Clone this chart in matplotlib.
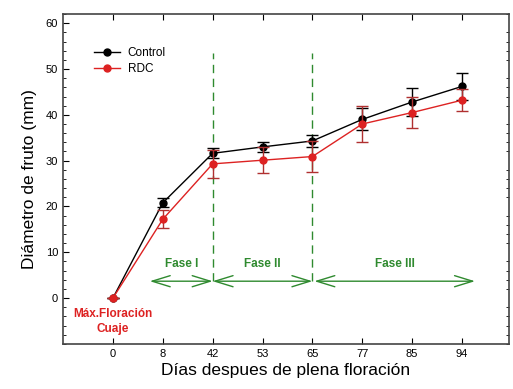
import matplotlib
matplotlib.use("Agg")
import matplotlib.pyplot as plt
from matplotlib.ticker import MultipleLocator
from matplotlib.lines import Line2D

plt.rcParams['font.family'] = ['Liberation Sans', 'DejaVu Sans']

##### Data
dias = ['0', '8', '42', '53', '65', '77', '85', '94']
control = [0.0, 20.8, 31.6, 33.0, 34.3, 39.0, 42.8, 46.2]
control_err = [0.0, 1.0, 1.1, 1.1, 1.3, 2.4, 3.0, 2.9]
rdc = [0.0, 17.2, 29.3, 30.1, 30.9, 38.0, 40.5, 43.2]
rdc_err = [0.0, 2.0, 3.0, 2.9, 3.3, 4.0, 3.3, 2.4]

fases = ['Fase I', 'Fase II', 'Fase III']
fase_inicio = [0.74, 2.0, 4.04]
fase_fin = [2.0, 4.0, 7.26]
limites = [2, 4]

verde = '#2f8a2f'
rojo = '#dd2222'

x = list(range(len(dias)))

fig = plt.figure(figsize=(5.13, 3.89), dpi=100)
ax = fig.add_axes([0.1228, 0.1157, 0.8692, 0.8483])

ax.errorbar(x, control, yerr=control_err, color='black', marker='o', markersize=5,
            linewidth=1, capsize=4, elinewidth=1, zorder=3)
ax.errorbar(x, rdc, yerr=rdc_err, color=rojo, ecolor='#b03030', marker='o', markersize=5,
            linewidth=1, capsize=4, elinewidth=1, zorder=4)

##### phase limits and arrows
for xl in limites:
    ax.plot([xl, xl], [3.7, 53.6], color=verde, linestyle=(0, (6, 4)), linewidth=1)
for nombre, a, b in zip(fases, fase_inicio, fase_fin):
    ax.annotate('', xy=(b, 3.7), xytext=(a, 3.7),
                arrowprops=dict(arrowstyle='<->,head_length=1.3,head_width=0.4',
                                color=verde, linewidth=1, shrinkA=0, shrinkB=0))
    ax.text((a + b) / 2, 7.4, nombre, color=verde, fontsize=8.5, fontweight='bold',
            ha='center', va='center')

ax.text(0, -2.2, 'Máx.Floración\nCuaje', color=rojo, fontsize=8.5, fontweight='bold',
        ha='center', va='top', linespacing=1.3)

ax.set_xlim(-1, 7.94)
ax.set_ylim(-10, 62)
ax.set_xticks(x)
ax.set_xticklabels(dias)
ax.set_yticks([0, 10, 20, 30, 40, 50, 60])
ax.yaxis.set_minor_locator(MultipleLocator(2))
ax.tick_params(direction='in', top=True, right=True, labelsize=8, length=4)
ax.tick_params(which='minor', direction='in', right=True, length=2.5)
ax.tick_params(axis='y', which='major', right=False)
for s in ax.spines.values():
    s.set_linewidth(1.2)
    s.set_color('#444444')

ax.set_xlabel('Días despues de plena floración', fontsize=12.5, labelpad=3)
ax.set_ylabel('Diámetro de fruto (mm)', fontsize=12.5, labelpad=6)

handles = [Line2D([], [], color='black', marker='o', markersize=5, linewidth=1),
           Line2D([], [], color=rojo, marker='o', markersize=5, linewidth=1)]
ax.legend(handles, ['Control', 'RDC'], loc='upper left', bbox_to_anchor=(0.06, 0.915),
          frameon=False, fontsize=8.5, handlelength=2.2, handletextpad=0.6,
          labelspacing=0.4, borderaxespad=0)

fig.savefig('out.png', dpi=100)
